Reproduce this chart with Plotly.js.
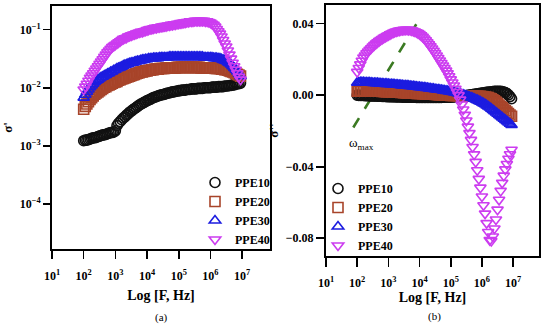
<!DOCTYPE html>
<html><head><meta charset="utf-8">
<script src="https://cdn.plot.ly/plotly-3.0.1.min.js"></script>
<style>html,body{margin:0;padding:0;background:#fff}#chart{width:550px;height:324px}</style>
</head><body><div id="chart"></div>
<script>
// log10 of frequency (Hz)
const logF = [
2.00,2.05,2.10,2.15,2.20,2.25,2.30,2.35,2.40,2.45,
2.50,2.55,2.60,2.65,2.70,2.75,2.80,2.85,2.90,2.95,
3.00,3.05,3.10,3.15,3.20,3.25,3.30,3.35,3.40,3.45,
3.50,3.55,3.60,3.65,3.70,3.75,3.80,3.85,3.90,3.95,
4.00,4.05,4.10,4.15,4.20,4.25,4.30,4.35,4.40,4.45,
4.50,4.55,4.60,4.65,4.70,4.75,4.80,4.85,4.90,4.95,
5.00,5.05,5.10,5.15,5.20,5.25,5.30,5.35,5.40,5.45,
5.50,5.55,5.60,5.65,5.70,5.75,5.80,5.85,5.90,5.95,
6.00,6.05,6.10,6.15,6.20,6.25,6.30,6.35,6.40,6.45,
6.50,6.55,6.60,6.65,6.70,6.75,6.80,6.85,6.90,6.95];

const seriesNames = ['PPE10','PPE20','PPE30','PPE40'];

// panel (a): log10 of sigma'
const logSigmaReal_PPE10 = [
-2.91,-2.90,-2.90,-2.89,-2.88,-2.87,-2.86,-2.86,-2.85,-2.84,
-2.83,-2.82,-2.81,-2.81,-2.80,-2.79,-2.78,-2.77,-2.77,-2.76,
-2.74,-2.65,-2.61,-2.58,-2.55,-2.52,-2.50,-2.47,-2.45,-2.42,
-2.40,-2.38,-2.36,-2.34,-2.32,-2.30,-2.28,-2.27,-2.25,-2.24,
-2.22,-2.21,-2.20,-2.18,-2.17,-2.16,-2.15,-2.14,-2.13,-2.12,
-2.12,-2.11,-2.10,-2.09,-2.09,-2.08,-2.07,-2.07,-2.06,-2.06,
-2.05,-2.05,-2.04,-2.04,-2.04,-2.03,-2.03,-2.03,-2.02,-2.02,
-2.02,-2.02,-2.01,-2.01,-2.01,-2.01,-2.00,-2.00,-2.00,-2.00,
-2.00,-1.99,-1.99,-1.99,-1.99,-1.98,-1.98,-1.98,-1.98,-1.97,
-1.97,-1.97,-1.96,-1.96,-1.95,-1.95,-1.94,-1.93,-1.93,-1.92];
const logSigmaReal_PPE20 = [
-2.37,-2.32,-2.28,-2.24,-2.20,-2.17,-2.14,-2.11,-2.09,-2.07,
-2.05,-2.03,-2.01,-1.99,-1.98,-1.96,-1.95,-1.94,-1.92,-1.91,
-1.90,-1.89,-1.87,-1.86,-1.85,-1.84,-1.83,-1.82,-1.81,-1.80,
-1.79,-1.78,-1.77,-1.76,-1.75,-1.74,-1.73,-1.73,-1.72,-1.71,
-1.71,-1.70,-1.70,-1.69,-1.69,-1.68,-1.68,-1.68,-1.67,-1.67,
-1.67,-1.67,-1.66,-1.66,-1.66,-1.66,-1.66,-1.66,-1.66,-1.65,
-1.65,-1.65,-1.65,-1.65,-1.65,-1.65,-1.65,-1.65,-1.65,-1.65,
-1.65,-1.65,-1.65,-1.65,-1.66,-1.66,-1.66,-1.66,-1.66,-1.66,
-1.66,-1.66,-1.66,-1.67,-1.67,-1.67,-1.67,-1.68,-1.68,-1.69,
-1.69,-1.70,-1.71,-1.72,-1.73,-1.74,-1.75,-1.77,-1.78,-1.80];
const logSigmaReal_PPE30 = [
-2.17,-2.12,-2.07,-2.03,-1.99,-1.96,-1.93,-1.90,-1.88,-1.86,
-1.84,-1.82,-1.81,-1.79,-1.78,-1.76,-1.75,-1.73,-1.72,-1.70,
-1.69,-1.67,-1.66,-1.65,-1.64,-1.62,-1.61,-1.60,-1.59,-1.58,
-1.57,-1.57,-1.56,-1.55,-1.54,-1.54,-1.53,-1.52,-1.52,-1.51,
-1.51,-1.50,-1.50,-1.50,-1.49,-1.49,-1.49,-1.49,-1.48,-1.48,
-1.48,-1.48,-1.48,-1.48,-1.47,-1.47,-1.47,-1.47,-1.47,-1.47,
-1.47,-1.47,-1.47,-1.47,-1.47,-1.47,-1.47,-1.47,-1.47,-1.47,
-1.47,-1.47,-1.47,-1.47,-1.47,-1.47,-1.48,-1.48,-1.48,-1.48,
-1.48,-1.48,-1.49,-1.49,-1.49,-1.50,-1.50,-1.51,-1.52,-1.53,
-1.54,-1.56,-1.58,-1.60,-1.63,-1.66,-1.69,-1.72,-1.76,-1.80];
const logSigmaReal_PPE40 = [
-2.03,-1.98,-1.93,-1.88,-1.83,-1.79,-1.75,-1.71,-1.67,-1.63,
-1.59,-1.55,-1.51,-1.47,-1.43,-1.39,-1.36,-1.33,-1.30,-1.28,
-1.26,-1.24,-1.22,-1.20,-1.18,-1.16,-1.15,-1.14,-1.12,-1.11,
-1.10,-1.09,-1.08,-1.07,-1.06,-1.05,-1.04,-1.04,-1.03,-1.02,
-1.01,-1.00,-0.99,-0.99,-0.98,-0.97,-0.97,-0.96,-0.96,-0.95,
-0.95,-0.94,-0.94,-0.93,-0.93,-0.92,-0.92,-0.91,-0.91,-0.90,
-0.90,-0.89,-0.89,-0.88,-0.88,-0.87,-0.87,-0.86,-0.86,-0.86,
-0.85,-0.85,-0.85,-0.85,-0.85,-0.85,-0.85,-0.86,-0.86,-0.87,
-0.88,-0.90,-0.92,-0.95,-0.99,-1.03,-1.07,-1.12,-1.18,-1.24,
-1.29,-1.36,-1.43,-1.50,-1.57,-1.63,-1.69,-1.75,-1.81,-1.86];

// panel (b): sigma''
const sigmaImag_PPE10 = [
0.0000,-0.0001,-0.0001,-0.0002,-0.0002,-0.0003,-0.0003,-0.0003,-0.0004,-0.0004,
-0.0005,-0.0005,-0.0005,-0.0006,-0.0006,-0.0006,-0.0007,-0.0007,-0.0007,-0.0008,
-0.0008,-0.0008,-0.0009,-0.0009,-0.0009,-0.0010,-0.0010,-0.0010,-0.0010,-0.0011,
-0.0011,-0.0011,-0.0011,-0.0012,-0.0012,-0.0012,-0.0012,-0.0012,-0.0013,-0.0013,
-0.0013,-0.0013,-0.0013,-0.0013,-0.0013,-0.0013,-0.0013,-0.0013,-0.0013,-0.0013,
-0.0013,-0.0013,-0.0013,-0.0013,-0.0013,-0.0012,-0.0012,-0.0012,-0.0012,-0.0011,
-0.0011,-0.0010,-0.0010,-0.0009,-0.0008,-0.0007,-0.0006,-0.0005,-0.0004,-0.0003,
-0.0002,-0.0001,0.0000,0.0002,0.0003,0.0005,0.0006,0.0008,0.0009,0.0011,
0.0012,0.0013,0.0015,0.0016,0.0017,0.0018,0.0019,0.0020,0.0021,0.0021,
0.0022,0.0022,0.0021,0.0020,0.0018,0.0014,0.0009,0.0002,-0.0008,-0.0020];
const sigmaImag_PPE20 = [
0.0022,0.0023,0.0024,0.0025,0.0025,0.0025,0.0025,0.0025,0.0025,0.0024,
0.0024,0.0024,0.0023,0.0023,0.0022,0.0022,0.0021,0.0021,0.0020,0.0020,
0.0019,0.0019,0.0018,0.0018,0.0017,0.0017,0.0016,0.0016,0.0015,0.0015,
0.0014,0.0014,0.0013,0.0013,0.0012,0.0012,0.0011,0.0011,0.0010,0.0010,
0.0009,0.0009,0.0008,0.0008,0.0007,0.0007,0.0006,0.0006,0.0005,0.0005,
0.0004,0.0004,0.0003,0.0003,0.0002,0.0002,0.0001,0.0001,0.0000,0.0000,
-0.0001,-0.0001,-0.0002,-0.0002,-0.0002,-0.0003,-0.0003,-0.0003,-0.0004,-0.0004,
-0.0004,-0.0004,-0.0005,-0.0005,-0.0005,-0.0005,-0.0006,-0.0006,-0.0006,-0.0007,
-0.0008,-0.0009,-0.0010,-0.0012,-0.0014,-0.0017,-0.0021,-0.0026,-0.0032,-0.0039,
-0.0047,-0.0055,-0.0063,-0.0071,-0.0079,-0.0087,-0.0095,-0.0103,-0.0111,-0.0118];
const sigmaImag_PPE30 = [
0.0070,0.0071,0.0072,0.0072,0.0072,0.0071,0.0071,0.0070,0.0070,0.0069,
0.0068,0.0068,0.0067,0.0067,0.0066,0.0065,0.0065,0.0064,0.0063,0.0063,
0.0062,0.0061,0.0061,0.0060,0.0059,0.0058,0.0058,0.0057,0.0056,0.0055,
0.0054,0.0053,0.0053,0.0052,0.0051,0.0050,0.0049,0.0048,0.0047,0.0046,
0.0045,0.0044,0.0043,0.0042,0.0041,0.0040,0.0038,0.0037,0.0036,0.0035,
0.0033,0.0032,0.0031,0.0030,0.0029,0.0027,0.0026,0.0024,0.0023,0.0021,
0.0020,0.0018,0.0016,0.0014,0.0012,0.0009,0.0007,0.0004,0.0002,-0.0001,
-0.0004,-0.0007,-0.0010,-0.0013,-0.0016,-0.0020,-0.0024,-0.0028,-0.0032,-0.0036,
-0.0041,-0.0046,-0.0051,-0.0057,-0.0063,-0.0069,-0.0076,-0.0083,-0.0090,-0.0097,
-0.0104,-0.0111,-0.0118,-0.0125,-0.0132,-0.0139,-0.0146,-0.0153,-0.0160,-0.0167];
const sigmaImag_PPE40 = [
0.0130,0.0152,0.0172,0.0192,0.0210,0.0222,0.0234,0.0244,0.0254,0.0262,
0.0272,0.0280,0.0288,0.0295,0.0302,0.0308,0.0314,0.0320,0.0325,0.0330,
0.0335,0.0340,0.0345,0.0349,0.0353,0.0356,0.0359,0.0361,0.0363,0.0364,
0.0365,0.0366,0.0366,0.0365,0.0364,0.0362,0.0359,0.0356,0.0352,0.0347,
0.0341,0.0334,0.0326,0.0317,0.0307,0.0296,0.0285,0.0273,0.0261,0.0248,
0.0235,0.0222,0.0208,0.0194,0.0180,0.0166,0.0152,0.0137,0.0122,0.0106,
0.0088,0.0071,0.0054,0.0036,0.0018,0.0000,-0.0025,-0.0052,-0.0080,-0.0110,
-0.0142,-0.0176,-0.0212,-0.0250,-0.0290,-0.0331,-0.0373,-0.0420,-0.0468,-0.0517,
-0.0566,-0.0615,-0.0662,-0.0715,-0.0765,-0.0810,-0.0815,-0.0790,-0.0745,-0.0695,
-0.0640,-0.0585,-0.0535,-0.0490,-0.0450,-0.0415,-0.0385,-0.0355,-0.0330,-0.0305];

// omega_max guide line (panel b)
const omegaLineLogF = [1.875, 3.96];
const omegaLineSigma = [-0.0181, 0.0415];

const xTickVals = [1,2,3,4,5,6,7];
const xTickText = ['10<sup>1</sup>','10<sup>2</sup>','10<sup>3</sup>','10<sup>4</sup>','10<sup>5</sup>','10<sup>6</sup>','10<sup>7</sup>'];
const yaTickVals = [1e-4,1e-3,1e-2,1e-1];
const yaTickText = ['10<sup>\u22124</sup>','10<sup>\u22123</sup>','10<sup>\u22122</sup>','10<sup>\u22121</sup>'];
const ybTickVals = [-0.08,-0.04,0,0.04];

const FONT = 'Liberation Serif, Times New Roman, serif';
const symbols = ['circle-open','square-open','triangle-up-open','triangle-down-open'];
const colors = ['#111111','#a8442a','#1c1ce0','#cc3cf0'];

const realSets = [logSigmaReal_PPE10, logSigmaReal_PPE20, logSigmaReal_PPE30, logSigmaReal_PPE40];
const imagSets = [sigmaImag_PPE10, sigmaImag_PPE20, sigmaImag_PPE30, sigmaImag_PPE40];

const traces = [];
seriesNames.forEach((name, i) => {
  traces.push({
    type: 'scatter', mode: 'markers', name: name,
    x: logF, y: realSets[i].map(v => Math.pow(10, v)),
    xaxis: 'x', yaxis: 'y', legend: 'legend',
    marker: {symbol: symbols[i], size: 10, color: colors[i], line: {width: 1.6, color: colors[i]}}
  });
});
traces.push({
  type: 'scatter', mode: 'lines', x: omegaLineLogF, y: omegaLineSigma,
  xaxis: 'x2', yaxis: 'y2', showlegend: false, hoverinfo: 'skip',
  line: {color: '#3b7a22', width: 2.6, dash: '11px,11px'}
});
seriesNames.forEach((name, i) => {
  traces.push({
    type: 'scatter', mode: 'markers', name: name,
    x: logF, y: imagSets[i],
    xaxis: 'x2', yaxis: 'y2', legend: 'legend2',
    marker: {symbol: symbols[i], size: 10, color: colors[i], line: {width: 1.6, color: colors[i]}}
  });
});

const tickFont = {family: FONT, size: 12, color: '#000', weight: 'bold'};
const titleFont = {family: FONT, size: 14, color: '#000', weight: 'bold'};
const axisCommon = {
  showline: true, linecolor: '#000', linewidth: 2, mirror: true,
  ticks: 'outside', tickwidth: 1.6, tickcolor: '#000',
  showgrid: false, zeroline: false, tickfont: tickFont
};

const layout = {
  width: 550, height: 324,
  margin: {l: 0, r: 0, t: 0, b: 0},
  paper_bgcolor: '#fff', plot_bgcolor: '#fff',
  font: {family: FONT, color: '#000'},
  xaxis: Object.assign({}, axisCommon, {
    domain: [52/550, 270/550], anchor: 'y', range: [1, 7.88],
    tickmode: 'array', tickvals: xTickVals, ticktext: xTickText, ticklen: 8, ticklabelstandoff: 7,
    title: {text: 'Log [F, Hz]', font: titleFont, standoff: 8}
  }),
  yaxis: Object.assign({}, axisCommon, {
    domain: [(324-249)/324, (324-6)/324], anchor: 'x', type: 'log', range: [-4.771, -0.595],
    tickmode: 'array', tickvals: yaTickVals, ticktext: yaTickText, ticklen: 7,
    title: {text: "\u03c3'", font: {family: FONT, size: 13, color: '#000', weight: 'bold'}, standoff: 4}
  }),
  xaxis2: Object.assign({}, axisCommon, {
    domain: [326/550, 539/550], anchor: 'y2', range: [1, 7.83],
    tickmode: 'array', tickvals: xTickVals, ticktext: xTickText, ticklen: 9, ticklabelstandoff: 6,
    title: {text: 'Log [F, Hz]', font: titleFont, standoff: 0}
  }),
  yaxis2: Object.assign({}, axisCommon, {
    domain: [(324-256)/324, (324-5)/324], anchor: 'x2', range: [-0.0899, 0.0504],
    tickmode: 'array', tickvals: ybTickVals, tickformat: '.2f', ticklen: 8,
    title: {text: "\u03c3''", font: {family: FONT, size: 13, color: '#000', weight: 'bold'}, standoff: 4}
  }),
  legend: {
    x: 195/550, xanchor: 'left', y: (324-168)/324, yanchor: 'top',
    bgcolor: 'rgba(0,0,0,0)', font: {family: FONT, size: 12, color: '#000', weight: 'bold'},
    tracegroupgap: 0
  },
  legend2: {
    x: 318/550, xanchor: 'left', y: (324-174)/324, yanchor: 'top',
    bgcolor: 'rgba(0,0,0,0)', font: {family: FONT, size: 12, color: '#000', weight: 'bold'},
    tracegroupgap: 0
  },
  annotations: [
    {xref: 'x2', yref: 'y2', x: 2.15, y: -0.0272, text: '\u03c9<sub>max</sub>', showarrow: false,
     font: {family: FONT, size: 13, color: '#000'}},
    {xref: 'paper', yref: 'paper', x: 161/550, y: (324-317)/324, xanchor: 'center', yanchor: 'middle',
     text: '(a)', showarrow: false, font: {family: FONT, size: 11, color: '#000'}},
    {xref: 'paper', yref: 'paper', x: 434/550, y: (324-316)/324, xanchor: 'center', yanchor: 'middle',
     text: '(b)', showarrow: false, font: {family: FONT, size: 11, color: '#000'}}
  ]
};

Plotly.newPlot('chart', traces, layout, {displayModeBar: false, staticPlot: true});
</script>
</body></html>
